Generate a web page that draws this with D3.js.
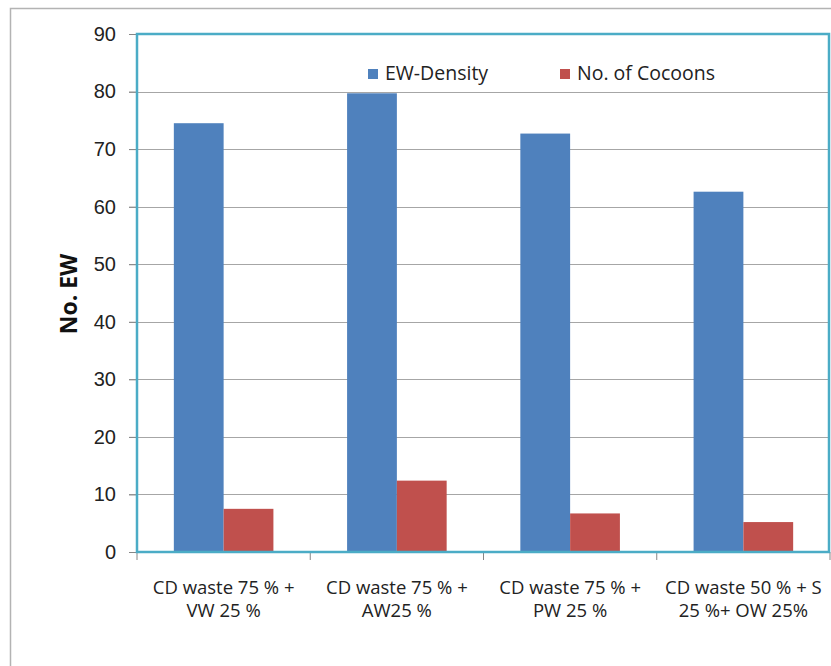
<!DOCTYPE html>
<html>
<head>
<meta charset="utf-8">
<script src="https://cdn.jsdelivr.net/npm/d3@7"></script>
<style>
  body { margin: 0; background: #fff; }
  svg { display: block; font-family: "Open Sans", "Noto Sans", sans-serif; }
</style>
</head>
<body>
<svg id="chart" width="831" height="666"></svg>
<script>
const categories = [
  ["CD waste 75 % +", "VW 25 %"],
  ["CD waste 75 % +", "AW25 %"],
  ["CD waste 75 % +", "PW 25 %"],
  ["CD waste 50 % + S", "25 %+ OW 25%"]
];
const series_names = ["EW-Density", "No. of Cocoons"];
const ew_density = [74.5, 79.7, 72.7, 62.6];
const cocoons = [7.5, 12.4, 6.7, 5.2];
const y_ticks = [0, 10, 20, 30, 40, 50, 60, 70, 80, 90];
const colors = ["#4f81bd", "#c0504d"];

const svg = d3.select("#chart");
const margin = { left: 137, right: 1, top: 34, bottom: 114 };
const width = 831, height = 666;

// outer frame (no right / bottom edge visible)
svg.append("path")
  .attr("d", `M10.5,666 V8.5 H831`)
  .attr("fill", "none")
  .attr("stroke", "#b3b3b3")
  .attr("stroke-width", 1.5);

const x = d3.scaleBand()
  .domain(d3.range(categories.length))
  .range([margin.left, width - margin.right]);

const x_inner = d3.scaleBand()
  .domain(series_names)
  .range([0, x.bandwidth()])
  .paddingOuter(0.74)
  .paddingInner(0);

const y = d3.scaleLinear()
  .domain([0, 90])
  .range([height - margin.bottom, margin.top]);

// gridlines
svg.append("g")
  .selectAll("line")
  .data(y_ticks.slice(1))
  .join("line")
  .attr("x1", margin.left - 8)
  .attr("x2", width - margin.right)
  .attr("y1", d => Math.round(y(d)) + 0.5)
  .attr("y2", d => Math.round(y(d)) + 0.5)
  .attr("stroke", "#a6a6a6")
  .attr("stroke-width", 1.2);

// y axis
const yAxis = svg.append("g")
  .attr("transform", `translate(${ margin.left }, 0)`)
  .call(d3.axisLeft(y).tickValues(y_ticks).tickSize(8).tickPadding(13));
yAxis.select(".domain").remove();
yAxis.selectAll(".tick line").attr("stroke", "#868686");
yAxis.selectAll(".tick text")
  .style("font-size", "20px")
  .attr("fill", "#222");

// bars
const series = [ew_density, cocoons];
const groups = svg.append("g")
  .selectAll("g")
  .data(series)
  .join("g")
  .attr("fill", (d, i) => colors[i]);

groups.selectAll("rect")
  .data((d, i) => d.map((v, j) => ({ v, j, s: series_names[i] })))
  .join("rect")
  .attr("x", d => x(d.j) + x_inner(d.s))
  .attr("width", x_inner.bandwidth())
  .attr("y", d => y(d.v))
  .attr("height", d => y(0) - y(d.v));

// category ticks
svg.append("g")
  .selectAll("line")
  .data(d3.range(categories.length + 1))
  .join("line")
  .attr("x1", d => d < categories.length ? x(d) : width - margin.right)
  .attr("x2", d => d < categories.length ? x(d) : width - margin.right)
  .attr("y1", y(0))
  .attr("y2", y(0) + 8)
  .attr("stroke", "#868686");

// plot border
svg.append("rect")
  .attr("x", margin.left)
  .attr("y", margin.top)
  .attr("width", width - margin.right - margin.left - 1)
  .attr("height", y(0) - margin.top)
  .attr("fill", "none")
  .attr("stroke", "#4bacc6")
  .attr("stroke-width", 2.5);

// category labels
const labels = svg.append("g")
  .selectAll("text")
  .data(categories)
  .join("text")
  .attr("text-anchor", "middle")
  .attr("fill", "#222")
  .style("font-size", "18.5px");

labels.selectAll("tspan")
  .data((d, i) => d.map(t => ({ t, i })))
  .join("tspan")
  .attr("x", d => x(d.i) + x.bandwidth() / 2)
  .attr("y", (d, k) => 594 + k * 23)
  .text(d => d.t);

// y title
svg.append("text")
  .attr("transform", `translate(77, 294) rotate(-90)`)
  .attr("text-anchor", "middle")
  .style("font-size", "23px")
  .style("font-weight", "bold")
  .attr("fill", "#111")
  .text("No. EW");

// legend
const legend_x = [368, 560];
const legend = svg.append("g")
  .selectAll("g")
  .data(series_names)
  .join("g")
  .attr("transform", (d, i) => `translate(${ legend_x[i] }, 69)`);

legend.append("rect")
  .attr("width", 10)
  .attr("height", 10)
  .attr("fill", (d, i) => colors[i]);

legend.append("text")
  .attr("x", 17)
  .attr("y", 11)
  .style("font-size", "19.5px")
  .attr("fill", "#222")
  .text(d => d);
</script>
</body>
</html>
